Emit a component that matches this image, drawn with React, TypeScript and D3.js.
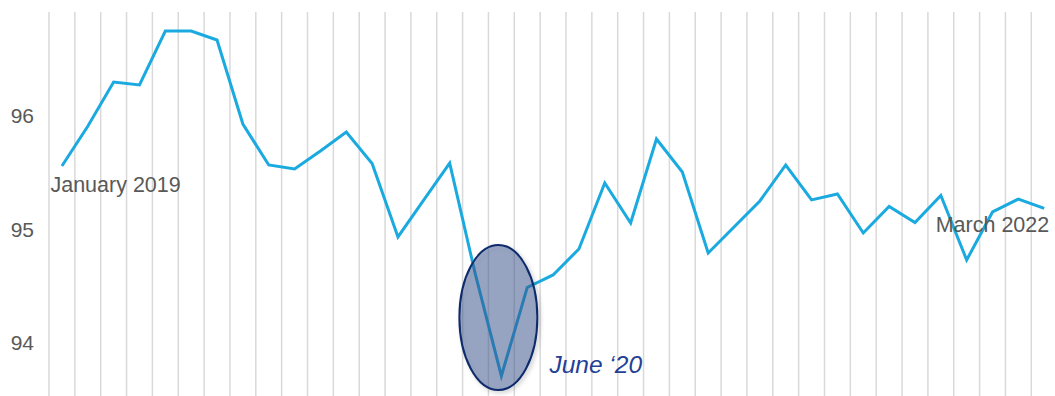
import React from "react";
import * as d3 from "d3";

// Monthly index, January 2019 through March 2022
const months: string[] = [
  "2019-01", "2019-02", "2019-03", "2019-04", "2019-05", "2019-06",
  "2019-07", "2019-08", "2019-09", "2019-10", "2019-11", "2019-12",
  "2020-01", "2020-02", "2020-03", "2020-04", "2020-05", "2020-06",
  "2020-07", "2020-08", "2020-09", "2020-10", "2020-11", "2020-12",
  "2021-01", "2021-02", "2021-03", "2021-04", "2021-05", "2021-06",
  "2021-07", "2021-08", "2021-09", "2021-10", "2021-11", "2021-12",
  "2022-01", "2022-02", "2022-03",
];

const values: number[] = [
  95.555, 95.905, 96.295, 96.269, 96.744, 96.744,
  96.665, 95.925, 95.564, 95.529, 95.687, 95.855,
  95.577, 94.93, 95.256, 95.581, 94.595, 93.705,
  94.485, 94.595, 94.824, 95.405, 95.053, 95.793,
  95.502, 94.789, 95.018, 95.247, 95.564, 95.256,
  95.308, 94.965, 95.198, 95.057, 95.295, 94.727,
  95.15, 95.264, 95.181,
];

const yTicks: number[] = [94, 95, 96];

const startLabel = "January 2019";
const endLabel = "March 2022";
const troughLabel = "June \u201820";
const troughMonth = "2020-06";

const W = 1055;
const H = 396;

export default function App() {
  const x = d3
    .scaleBand<string>()
    .domain(months)
    .range([49, 49 + months.length * 25.85]);
  const cx = (m: string) => (x(m) as number) + x.bandwidth() / 2;

  const y = d3.scaleLinear().domain([94, 96]).range([342.5, 115.5]);

  const line = d3
    .line<number>()
    .x((_, i) => cx(months[i]))
    .y((d) => y(d));

  const gridXs = months.map((m) => x(m) as number).concat([x.range()[1]]);

  const iTrough = months.indexOf(troughMonth);
  const troughX = cx(troughMonth);
  const troughY = y(values[iTrough]);

  const font = "'Liberation Sans', Arial, Helvetica, sans-serif";

  return (
    <div style={{ position: "fixed", left: 0, top: 0 }}>
      <svg width={W} height={H} style={{ display: "block", background: "#fff" }}>
        <defs>
          <filter id="ovalShadow" x="-30%" y="-20%" width="160%" height="140%">
            <feDropShadow dx="2" dy="2" stdDeviation="2" floodColor="#000" floodOpacity="0.22" />
          </filter>
        </defs>

        {/* vertical month gridlines */}
        <g stroke="#d9d9d9" strokeWidth={1.5}>
          {gridXs.map((gx, i) => (
            <line key={i} x1={gx} x2={gx} y1={12} y2={H} />
          ))}
        </g>

        {/* y-axis labels */}
        <g fill="#595959" fontFamily={font} fontSize={21} textAnchor="end">
          {yTicks.map((t) => (
            <text key={t} x={34} y={y(t)} dy="0.36em">
              {t}
            </text>
          ))}
        </g>

        {/* index line */}
        <path
          d={line(values) as string}
          fill="none"
          stroke="#1aaadf"
          strokeWidth={3}
          strokeLinejoin="miter"
        />

        {/* highlight around the June 2020 trough */}
        <ellipse
          cx={troughX - 3}
          cy={troughY - 58.5}
          rx={39}
          ry={72.5}
          fill="#3a5590"
          fillOpacity={0.47}
          stroke="#0f2a6b"
          strokeWidth={2}
          filter="url(#ovalShadow)"
        />

        {/* annotations */}
        <text
          x={cx(months[0]) - 11.5}
          y={y(values[0]) + 26}
          fill="#595959"
          fontFamily={font}
          fontSize={21.5}
        >
          {startLabel}
        </text>
        <text
          x={cx(months[months.length - 1]) + 5}
          y={y(values[values.length - 1]) + 23.5}
          fill="#595959"
          fontFamily={font}
          fontSize={21.5}
          textAnchor="end"
        >
          {endLabel}
        </text>
        <text
          x={troughX + 48}
          y={troughY - 3}
          fill="#1f4196"
          fontFamily={font}
          fontSize={24.5}
          fontStyle="italic"
        >
          {troughLabel}
        </text>
      </svg>
    </div>
  );
}
